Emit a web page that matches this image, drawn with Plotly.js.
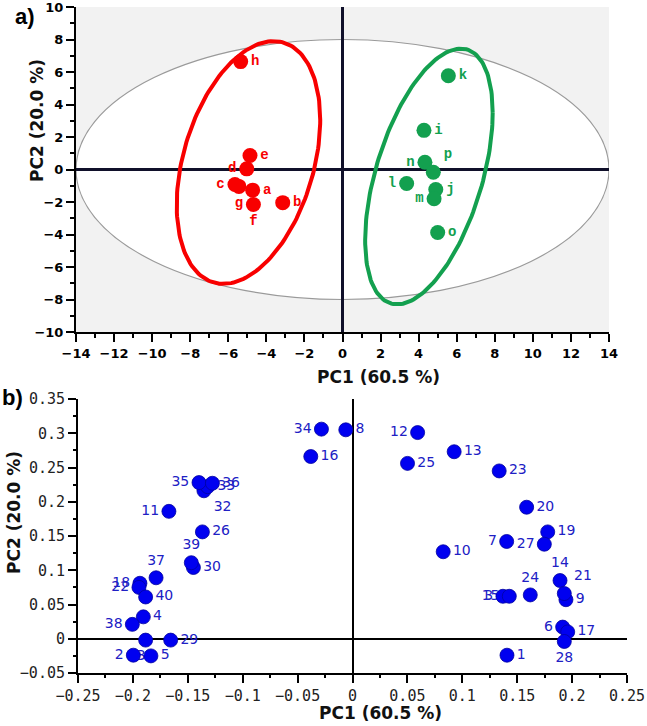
<!DOCTYPE html>
<html>
<head>
<meta charset="utf-8">
<script src="https://cdn.plot.ly/plotly-3.0.1.min.js"></script>
<style>html,body{margin:0;padding:0;background:#fff}#chart{width:647px;height:726px}</style>
</head>
<body>
<div id="chart"></div>
<script>
// ---- Panel a) scores ----
const redLabels = ['a','b','c','d','e','f','g','h'];
const redPC1 = [-4.72, -3.14, -5.65, -5.03, -4.86, -4.68, -5.44, -5.35];
const redPC2 = [-1.27, -2.04, -0.92, 0.04, 0.86, -2.15, -1.04, 6.64];

const greenLabels = ['i','j','k','l','m','n','o','p'];
const greenPC1 = [4.28, 4.90, 5.56, 3.37, 4.81, 4.33, 5.00, 4.77];
const greenPC2 = [2.41, -1.23, 5.77, -0.86, -1.80, 0.45, -3.88, -0.17];

// confidence ellipses (red group, green group): centre, half-width, half-height, x-shift of top point
const ellCX = [-4.94, 4.54];
const ellCY = [0.43, -0.43];
const ellHalfW = [3.77, 3.35];
const ellHalfH = [7.47, 7.87];
const ellTopShift = [1.32, 1.67];

// Hotelling ellipse
const hotX = [-14, 14];
const hotY = [-8, 8];

// ---- Panel b) loadings ----
const loadLabels = ['1','2','3','4','5','6','7','8','9','10','11','12','13','14','15','16','17','18','19','20',
                    '21','22','23','24','25','26','27','28','29','30','31','32','33','34','35','36','37','38','39','40'];
const loadPC1 = [0.1407, -0.1996, 0.137, -0.1905, -0.1836, 0.1914, 0.1404, -0.0061, 0.1944, 0.0826,
                 -0.1672, 0.0593, 0.0926, 0.1890, 0.1428, -0.0380, 0.1960, -0.1936, 0.1778, 0.1586,
                 0.1929, -0.1945, 0.1336, 0.1619, 0.0501, -0.1367, 0.1747, 0.1929, -0.1656, -0.1449,
                 -0.1884, -0.1353, -0.1319, -0.0283, -0.1398, -0.1276, -0.1789, -0.2005, -0.1468, -0.1884];
const loadPC2 = [-0.024, -0.024, 0.062, 0.032, -0.025, 0.017, 0.142, 0.305, 0.057, 0.127,
                 0.186, 0.301, 0.273, 0.085, 0.062, 0.266, 0.010, 0.081, 0.156, 0.192,
                 0.066, 0.075, 0.245, 0.064, 0.256, 0.156, 0.138, -0.004, -0.002, 0.104,
                 -0.002, 0.216, 0.222, 0.306, 0.228, 0.227, 0.089, 0.021, 0.111, 0.061];

// label placement (style only)
const redPos = ['middle right','middle right','middle left','middle left','middle right','bottom center','bottom center','middle right'];
const greenPos = ['middle right','middle right','middle right','middle left','middle left','middle left','middle right','top right'];
const loadPos = ['middle right','middle left','middle left','middle right','middle right','middle left','middle left','middle right','middle right','middle right',
                 'middle left','middle left','middle right','top center','middle left','middle right','middle right','middle left','middle right','middle right',
                 'top right','middle left','middle right','top center','middle right','middle right','middle left','bottom center','middle right','middle right',
                 'bottom center','bottom right','middle right','middle left','middle left','middle right','top center','middle left','top center','middle right'];

const RED = '#f80000';
const GREEN = '#13a04f';
const BLUE = '#0000f0';
const BLUETXT = '#2020c4';

function ellipsePts(i) {
  const xs = [], ys = [];
  const phi = Math.acos(ellTopShift[i] / ellHalfW[i]);
  for (let k = 0; k <= 180; k++) {
    const t = 2 * Math.PI * k / 180;
    xs.push(ellCX[i] + ellHalfW[i] * Math.cos(t));
    ys.push(ellCY[i] + ellHalfH[i] * Math.cos(t - phi));
  }
  return {xs, ys};
}
const eR = ellipsePts(0), eG = ellipsePts(1);

const letterFont = {family: 'Liberation Mono, Courier New, monospace', size: 14, weight: 'bold'};
const numFont = {family: 'DejaVu Sans, sans-serif', size: 14, color: BLUETXT};

const traces = [
  // label layers (under markers)
  {x: redPC1, y: redPC2, text: redLabels, mode: 'markers+text', textposition: redPos,
   marker: {size: 15, color: 'rgba(0,0,0,0)'}, textfont: Object.assign({color: RED}, letterFont),
   xaxis: 'x', yaxis: 'y', hoverinfo: 'skip', cliponaxis: false},
  {x: greenPC1, y: greenPC2, text: greenLabels, mode: 'markers+text', textposition: greenPos,
   marker: {size: 15, color: 'rgba(0,0,0,0)'}, textfont: Object.assign({color: GREEN}, letterFont),
   xaxis: 'x', yaxis: 'y', hoverinfo: 'skip', cliponaxis: false},
  // ellipses
  {x: eR.xs, y: eR.ys, mode: 'lines', line: {color: RED, width: 4}, xaxis: 'x', yaxis: 'y', hoverinfo: 'skip'},
  {x: eG.xs, y: eG.ys, mode: 'lines', line: {color: GREEN, width: 4}, xaxis: 'x', yaxis: 'y', hoverinfo: 'skip'},
  // markers
  {x: redPC1, y: redPC2, mode: 'markers', marker: {size: 15, color: RED}, xaxis: 'x', yaxis: 'y'},
  {x: greenPC1, y: greenPC2, mode: 'markers', marker: {size: 15, color: GREEN}, xaxis: 'x', yaxis: 'y'},
  // b) labels then markers
  {x: loadPC1, y: loadPC2, text: loadLabels, mode: 'markers+text', textposition: loadPos,
   marker: {size: 14, color: 'rgba(0,0,0,0)'}, textfont: numFont,
   xaxis: 'x2', yaxis: 'y2', hoverinfo: 'skip', cliponaxis: false},
  {x: loadPC1, y: loadPC2, mode: 'markers', marker: {size: 14, color: BLUE, line: {color: '#0000a0', width: 0.8}},
   xaxis: 'x2', yaxis: 'y2'}
];

const axA = {
  ticks: 'outside', ticklen: 8, tickwidth: 2, tickcolor: '#000',
  showline: true, linewidth: 2, linecolor: '#000', showgrid: false,
  zeroline: true, zerolinecolor: '#10102a', zerolinewidth: 3,
  tickfont: {family: 'DejaVu Sans, sans-serif', size: 13, color: '#000', weight: 'bold'},
  ticklabeloverflow: 'allow',
  minor: {ticks: 'outside', ticklen: 4, tickwidth: 2, tickcolor: '#000', showgrid: false},
  fixedrange: true
};
const axB = {
  ticks: 'outside', ticklen: 8, tickwidth: 2, tickcolor: '#000',
  showline: true, linewidth: 2, linecolor: '#000', showgrid: false,
  zeroline: true, zerolinecolor: '#000', zerolinewidth: 2,
  tickfont: {family: 'DejaVu Sans Mono, monospace', size: 15, color: '#222'},
  ticklabeloverflow: 'allow',
  minor: {ticks: 'outside', ticklen: 3, tickwidth: 2, tickcolor: '#000', showgrid: false},
  fixedrange: true
};

const W = 647, H = 726;
const layout = {
  width: W, height: H,
  margin: {l: 0, r: 0, t: 0, b: 0},
  paper_bgcolor: '#fff', plot_bgcolor: 'rgba(0,0,0,0)',
  showlegend: false,
  xaxis: Object.assign({}, axA, {domain: [76/W, 609/W], range: [-14, 14], dtick: 2, tick0: 0,
    minor: Object.assign({}, axA.minor, {dtick: 1}), anchor: 'y'}),
  yaxis: Object.assign({}, axA, {domain: [1 - 332/H, 1 - 7/H], range: [-10, 10], dtick: 2, tick0: 0,
    minor: Object.assign({}, axA.minor, {dtick: 1}), anchor: 'x'}),
  xaxis2: Object.assign({}, axB, {domain: [78/W, 627/W], range: [-0.25, 0.25], dtick: 0.05, tick0: 0,
    minor: Object.assign({}, axB.minor, {dtick: 0.025}), anchor: 'y2'}),
  yaxis2: Object.assign({}, axB, {domain: [1 - 673/H, 1 - 399/H], range: [-0.05, 0.35], dtick: 0.05, tick0: 0,
    minor: Object.assign({}, axB.minor, {dtick: 0.025}), anchor: 'x2'}),
  shapes: [
    {type: 'rect', xref: 'x', yref: 'y', x0: -14, x1: 14, y0: -10, y1: 10,
     fillcolor: '#f2f2f2', line: {width: 0}, layer: 'below'},
    {type: 'circle', xref: 'x', yref: 'y', x0: hotX[0], x1: hotX[1], y0: hotY[0], y1: hotY[1],
     fillcolor: '#ffffff', line: {color: '#9a9a9a', width: 1.2}, layer: 'below'}
  ],
  annotations: [
    {text: 'a)', xref: 'paper', yref: 'paper', x: 13/W, y: 1 - 16/H, xanchor: 'left', yanchor: 'middle',
     showarrow: false, font: {family: 'Liberation Sans, Arial, sans-serif', size: 22, weight: 'bold', color: '#000'}},
    {text: 'b)', xref: 'paper', yref: 'paper', x: 0, y: 1 - 397/H, xanchor: 'left', yanchor: 'middle',
     showarrow: false, font: {family: 'Liberation Sans, Arial, sans-serif', size: 22, weight: 'bold', color: '#000'}},
    {text: 'PC1 (60.5 %)', xref: 'paper', yref: 'paper', x: 378/W, y: 1 - 377/H, xanchor: 'center', yanchor: 'middle',
     showarrow: false, font: {family: 'DejaVu Sans, sans-serif', size: 17, weight: 'bold', color: '#111'}},
    {text: 'PC2 (20.0 %)', xref: 'paper', yref: 'paper', x: 37/W, y: 1 - 121/H, xanchor: 'center', yanchor: 'middle',
     textangle: -90, showarrow: false, font: {family: 'DejaVu Sans, sans-serif', size: 17, weight: 'bold', color: '#111'}},
    {text: 'PC1 (60.5 %)', xref: 'paper', yref: 'paper', x: 380/W, y: 1 - 713/H, xanchor: 'center', yanchor: 'middle',
     showarrow: false, font: {family: 'DejaVu Sans, sans-serif', size: 17, weight: 'bold', color: '#111'}},
    {text: 'PC2 (20.0 %)', xref: 'paper', yref: 'paper', x: 14/W, y: 1 - 513/H, xanchor: 'center', yanchor: 'middle',
     textangle: -90, showarrow: false, font: {family: 'DejaVu Sans, sans-serif', size: 17, weight: 'bold', color: '#111'}}
  ]
};

Plotly.newPlot('chart', traces, layout, {displayModeBar: false, staticPlot: true});
</script>
</body>
</html>
